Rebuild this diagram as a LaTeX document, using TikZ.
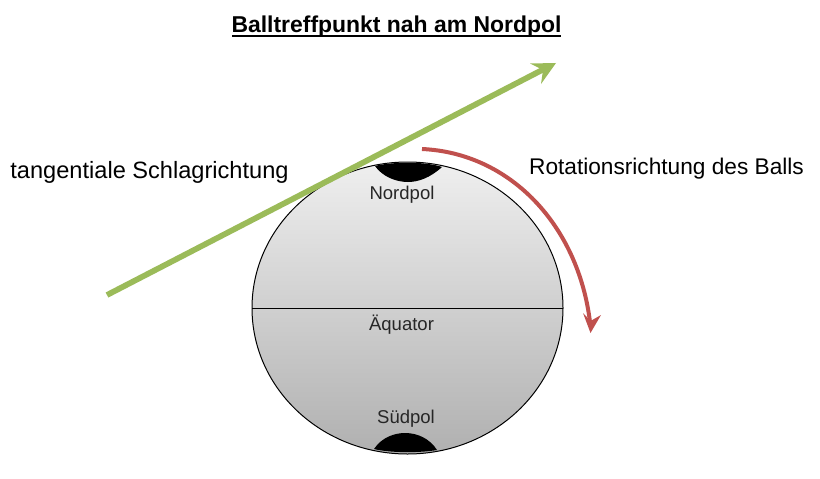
\documentclass[tikz,border=0pt]{standalone}
\usepackage{fontspec}
\setmainfont{Liberation Sans}
\usetikzlibrary{shadings}
\definecolor{arrowgreen}{HTML}{9BBB59}
\definecolor{arrowred}{HTML}{C0504D}
\definecolor{ballTop}{HTML}{EFEFEF}
\definecolor{ballBottom}{HTML}{B0B0B0}
\tikzset{
  lbl/.style={inner sep=0pt,text=black},
  small/.style={inner sep=0pt,text=black!85,font=\fontsize{13.9pt}{16pt}\selectfont},
}
\begin{document}
\begin{tikzpicture}[x=0.75pt,y=-0.75pt]
\useasboundingbox (0,0) rectangle (820,478);
% ball
\shade[top color=ballTop,bottom color=ballBottom,draw=black,line width=0.75pt,shading angle=0]
  (407.5,308) ellipse [x radius=155.5,y radius=146];
\coordinate (eqL) at (252,308);
\coordinate (eqR) at (563,308);
\draw[black,line width=0.75pt] (eqL) -- (eqR);
% caps
\fill[black] (375,166) .. controls (390,162) and (425,161) .. (442,167)
  .. controls (430,178) and (418,182) .. (408,182)
  .. controls (395,182) and (382,176) .. (375,166) -- cycle;
\fill[black] (374,449) .. controls (382,437) and (395,433) .. (405,433)
  .. controls (418,433) and (430,439) .. (437,450)
  .. controls (420,453) and (390,453) .. (374,449) -- cycle;
% labels
\node[small] (nord) at (402,194.5) {Nordpol};
\node[small] (aeq) at (401.5,324.5) {Äquator};
\node[small] (sued) at (406,418.5) {Südpol};
\node[inner sep=0pt,font=\bfseries\fontsize{17.2pt}{20pt}\selectfont] (title) at (396.5,26.5) {Balltreffpunkt nah am Nordpol};
\draw[black,line width=1.1pt] (232,36) -- (561,36);
\node[lbl,font=\fontsize{17.7pt}{20pt}\selectfont] (schlag) at (149.5,172.5) {tangentiale Schlagrichtung};
\node[lbl,font=\fontsize{17pt}{20pt}\selectfont] (rot) at (666.5,168.5) {Rotationsrichtung des Balls};
% green arrow
\coordinate (gs) at (107,295);
\coordinate (ge) at (546,68);
\draw[arrowgreen,line width=4.3pt] (gs) -- (ge);
\fill[arrowgreen] (556,63) -- (530,63.5) -- (543,70) -- (541,84) -- cycle;
% red arrow
\coordinate (rs) at (422,149);
\coordinate (re) at (590,322);
\draw[arrowred,line width=3pt] (rs) .. controls (510,153) and (578,225) .. (re);
\fill[arrowred] (590.5,333) -- (583,313) -- (590.5,321) -- (601,315) -- cycle;
\end{tikzpicture}
\end{document}
